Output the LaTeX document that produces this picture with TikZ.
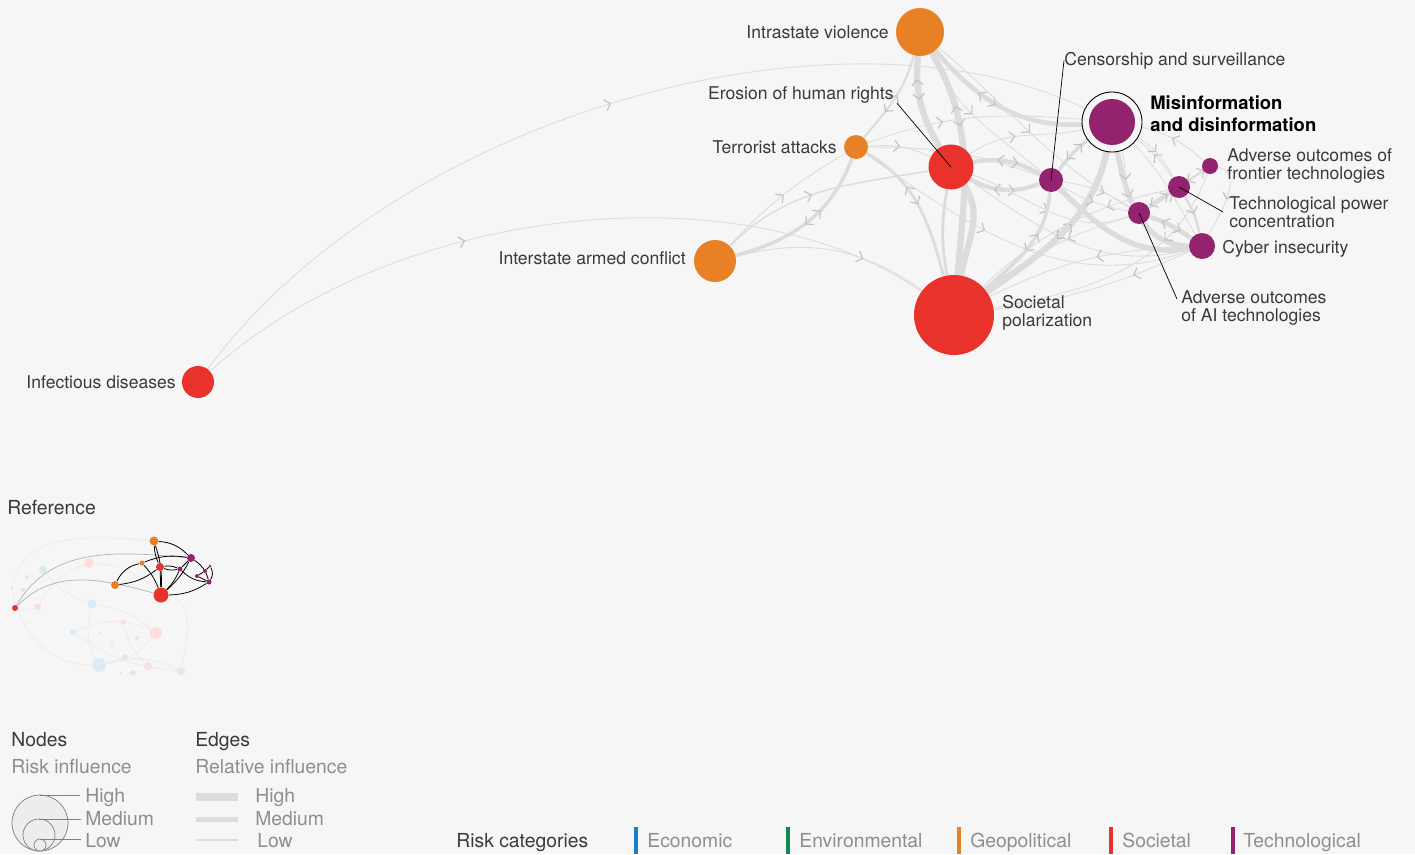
\documentclass[tikz,border=0pt]{standalone}
\usepackage{fontspec}
\setmainfont{TeX Gyre Heros}
\usetikzlibrary{arrows.meta,decorations.markings}
\definecolor{bg}{HTML}{F6F6F6}
\definecolor{edgegray}{HTML}{DCDCDC}
\definecolor{chevgray}{HTML}{C2C2C2}
\definecolor{geo}{HTML}{E88126}
\definecolor{soc}{HTML}{E8322B}
\definecolor{tech}{HTML}{93226F}
\definecolor{econ}{HTML}{1B7EC2}
\definecolor{env}{HTML}{0E8A4C}
\definecolor{textdark}{HTML}{3A3A3A}
\definecolor{textgray}{HTML}{8E8E8E}
\pgfdeclarelayer{back}
\pgfdeclarelayer{links}
\pgfsetlayers{back,links,main}
\tikzset{
  risk/.style={circle,inner sep=0pt,minimum size=#1},
  lbl/.style={inner sep=0pt,text=textdark,font=\fontsize{10}{10.5}\selectfont,align=left},
  lgd/.style={inner sep=0pt,text=textdark,font=\fontsize{11}{12}\selectfont},
  lgdgray/.style={lgd,text=textgray},
  link/.style={draw=edgegray,line width=#1},
  link/.default=0.5pt,
  chev/.tip={Straight Barb[length=1.1mm,width=2.3mm,line width=0.65pt]},
  fwd/.style={postaction={decorate,decoration={markings,
    mark=at position #1 with {\arrow[chevgray]{chev}}}}},
  fwd/.default=0.5,
  both/.style={postaction={decorate,decoration={markings,
    mark=at position #1 with {{\pgftransformxshift{2.1mm}\arrow[chevgray]{chev}}%
      {\pgftransformxshift{-2.1mm}\arrowreversed[chevgray]{chev}}}}}},
  both/.default=0.5,
  leader/.style={draw=black,line width=0.4pt},
  refl/.style={draw=black,line width=0.45pt},
  faint/.style={draw=black!9,line width=0.3pt},
  lgcirc/.style={draw=black!50,fill=black!7,line width=0.4pt},
}
\begin{document}
\begin{tikzpicture}[x=0.2mm,y=0.2mm]
\begin{pgfonlayer}{back}
\fill[bg] (0,0) rectangle (1415,-854);
\end{pgfonlayer}
\useasboundingbox (0,0) rectangle (1415,-854);

% risks
\node[risk=9.6mm,fill=geo] (iv) at (920,-32) {};
\node[risk=9mm,fill=soc] (ehr) at (951,-167) {};
\node[risk=4.8mm,fill=geo] (ta) at (856,-147) {};
\node[risk=8.4mm,fill=geo] (iac) at (715,-261) {};
\node[risk=16mm,fill=soc] (sp) at (954,-315) {};
\node[risk=4.8mm,fill=tech] (cs) at (1051,-180) {};
\node[risk=12mm,draw=black,line width=0.5pt,fill=bg] (misring) at (1112,-122) {};
\node[risk=9.2mm,fill=tech] (mis) at (1112,-122) {};
\node[risk=3.2mm,fill=tech] (fr) at (1210,-166) {};
\node[risk=4.4mm,fill=tech] (tpc) at (1179,-187) {};
\node[risk=4.4mm,fill=tech] (ai) at (1139,-213) {};
\node[risk=5.2mm,fill=tech] (ci) at (1202,-246) {};
\node[risk=6.4mm,fill=soc] (id) at (198,-382) {};

\node[lbl,anchor=base east] (ivl) at (889,-38) {Intrastate violence};
\node[lbl,anchor=base east] (ehrl) at (894,-99) {Erosion of human rights};
\node[lbl,anchor=base east] (tal) at (837,-153) {Terrorist attacks};
\node[lbl,anchor=base east] (iacl) at (686,-264) {Interstate armed conflict};
\node[lbl,anchor=base east] (idl) at (176,-388) {Infectious diseases};
\node[lbl,anchor=base west] (csl) at (1064,-65) {Censorship and surveillance};
\node[lbl,anchor=west,text=black,font=\bfseries\fontsize{10.5}{12.5}\selectfont] (misl) at (1150,-114) {Misinformation\\and disinformation};
\node[lbl,anchor=west] (frl) at (1227,-166) {Adverse outcomes of\\frontier technologies};
\node[lbl,anchor=west] (tpcl) at (1229,-212) {Technological power\\concentration};
\node[lbl,anchor=base west] (cil) at (1222,-253) {Cyber insecurity};
\node[lbl,anchor=west] (ail) at (1181,-308) {Adverse outcomes\\of AI technologies};
\node[lbl,anchor=west] (spl) at (1002,-313) {Societal\\polarization};

\draw[leader] ([xshift=0.6mm]ehrl.south east) -- (ehr.center);
\draw[leader] (csl.west) -- (cs.center);
\draw[leader] ([xshift=-1.2mm]tpcl.west) -- (tpc.center);
\draw[leader] ([xshift=-0.8mm,yshift=-1.8mm]ail.north west) -- (ai.center);

\begin{pgfonlayer}{links}
\draw[link,fwd=0.5] (id) .. controls (400,-110) and (850,10) .. (mis);
\draw[link,fwd=0.38] (id) .. controls (400,-200) and (750,-170) .. (sp);
\draw[link,fwd=0.66] (iac) to[bend left=25] (sp);
\draw[link=0.8pt,fwd=0.45] (iac) to[out=45,in=190] (ehr);
\draw[link,fwd] (iac) to[bend left=8] (ta);
\draw[link=2pt,both=0.45] (ta) to[out=-110,in=15] (iac);
\draw[link=1.6pt,both=0.42] (ta) to[out=-30,in=105] (sp);
\draw[link=1.2pt,both=0.45] (ta) to[out=50,in=-105] (iv);
\draw[link,fwd] (ta) to[bend left=15] (ehr);
\draw[link,fwd=0.35] (ta) to[out=20,in=175] (mis);
\draw[link,fwd] (ta) to[out=0,in=160] (cs);
\draw[link,fwd=0.4] (ta) to[out=-35,in=200] (ci);
\draw[link=3.6pt,both=0.35] (iv) to[out=-95,in=120] (ehr);
\draw[link=3.6pt,both=0.3] (iv) to[out=-60,in=85] (sp);
\draw[link=2.6pt,both=0.4] (iv) to[out=-50,in=185] (mis);
\draw[link,fwd=0.45] (iv) to[out=-65,in=140] (cs);
\draw[link,fwd] (iv) to[out=-40,in=150] (ai);
\draw[link=3.6pt] (ehr) to[out=-55,in=80] (sp);
\draw[link=1.6pt] (ehr) to[out=-100,in=100] (sp);
\draw[link=2.4pt,both] (ehr) to[bend left=20] (cs);
\draw[link=2.4pt,both] (ehr) to[bend right=25] (cs);
\draw[link,fwd=0.4] (ehr) to[out=35,in=195] (mis);
\draw[link,fwd=0.45] (ehr) to[out=-35,in=195] (ci);
\draw[link,fwd] (ehr) to[out=-20,in=200] (ai);
\draw[link=2pt,both] (cs) to[bend left=8] (mis);
\draw[link=2pt,both=0.45] (cs) to[out=-95,in=40] (sp);
\draw[link=3.6pt,both] (mis) to[out=-100,in=35] (sp);
\draw[link=3pt,fwd=0.4] (mis) to[out=-80,in=180] (ci);
\draw[link=3pt] (cs) to[out=-45,in=190] (ci);
\draw[link,fwd=0.6] (mis) to[out=-70,in=120] (ai);
\draw[link,fwd] (fr) to[bend right=15] (mis);
\draw[link,fwd] (tpc) to[bend right=10] (mis);
\draw[link,fwd=0.4] (ci) to[out=120,in=-45] (mis);
\draw[link,fwd=0.5] (mis) to[bend left=15] (tpc);
\draw[link=2.6pt,both] (ai) -- (tpc);
\draw[link=2.6pt,both] (ai) to[bend left=8] (ci);
\draw[link=1.4pt,both] (tpc) -- (fr);
\draw[link,fwd] (fr) to[out=-10,in=60] (ci);
\draw[link=1.4pt,fwd] (tpc) to[bend left=10] (ci);
\draw[link,fwd=0.45] (ci) to[bend right=12] (sp);
\draw[link,fwd=0.3] (ci) to[bend left=8] (sp);
\draw[link,fwd=0.4] (ai) to[bend right=10] (sp);
\draw[link,fwd=0.3] (tpc) to[bend right=15] (sp);
\draw[link,fwd=0.3] (fr) to[out=-110,in=10] (sp);
\draw[link,fwd] (cs) to[bend right=10] (ai);
\draw[link,fwd=0.6] (cs) to[bend left=12] (ai);
\end{pgfonlayer}

% reference inset
\node[lgd,anchor=base west] (refl) at (7,-514) {Reference};
\foreach \x/\y/\r/\c [count=\i] in {89/563/5/soc,43/570/4/env,27/577/2/env,12/588/1.5/env,
  23/590/2/env,38/589/1.5/env,38/607/3.5/soc,92/604/4.5/econ,65/596/1/env,29/623/1.5/geo,
  123/622/3/soc,73/632/3.5/econ,100/633/1.5/econ,156/633/6/soc,137/638/2/econ,112/645/2.5/geo,
  125/657/3/econ,99/665/7/econ,148/666/4/soc,133/673/3/econ,121/673/1.5/econ,181/671/4/econ}
  \node[risk=\r*0.4mm,fill=\c!16] (f\i) at (\x,-\y) {};
\node[risk=1.8mm,fill=geo] (riv) at (154,-541) {};
\node[risk=1.6mm,fill=tech] (rmis) at (191,-558) {};
\node[risk=1mm,fill=geo] (rta) at (142,-563) {};
\node[risk=1.6mm,fill=soc] (rehr) at (160,-567) {};
\node[risk=1mm,fill=tech] (rcs) at (180,-569) {};
\node[risk=0.6mm,fill=tech] (rfr) at (210,-566) {};
\node[risk=0.8mm,fill=tech] (rtpc) at (205,-571) {};
\node[risk=0.8mm,fill=tech] (rai) at (197,-576) {};
\node[risk=1mm,fill=tech] (rci) at (209,-582) {};
\node[risk=1.6mm,fill=geo] (riac) at (115,-585) {};
\node[risk=3mm,fill=soc] (rsp) at (161,-595) {};
\node[risk=1.2mm,fill=soc] (rid) at (15,-608) {};

\begin{pgfonlayer}{links}
\draw[faint] (f4) to[out=80,in=175] (riv);
\draw[faint] (f18) to[bend left=20] (f22);
\draw[faint] (f18) to[bend right=20] (f14);
\draw[faint] (f12) to[bend right=15] (f22);
\draw[faint] (f8) to[bend left=15] (f14);
\draw[faint] (f4) to[out=-80,in=180] (f18);
\draw[faint] (rsp) to[out=-10,in=80] (f22);
\draw[faint] (f1) to[bend left=20] (rsp);
\draw[faint] (f8) to[bend right=20] (f18);
\draw[faint] (f2) to[bend right=15] (f8);
\draw[faint] (f11) to[bend right=15] (f19);
\draw[faint] (rid) to[bend right=15] (f7);
\draw[faint] (f7) to[bend left=20] (f1);
\draw[faint] (f12) to[bend left=25] (f14);
\draw[black!30,line width=0.4pt] (rid) to[out=60,in=175] (rmis);
\draw[black!30,line width=0.4pt] (rid) to[out=45,in=165] (rsp);
\draw[refl] (riv) to[bend left=10] (rsp);
\draw[refl] (riv) to[bend right=10] (rehr);
\draw[refl] (riv) to[bend left=20] (rmis);
\draw[refl] (riac) to[bend left=25] (rta);
\draw[refl] (riac) to[bend right=15] (rehr);
\draw[refl] (rta) to[bend left=10] (rsp);
\draw[refl] (rta) to[bend left=15] (rmis);
\draw[refl] (rehr) to[bend left=15] (rcs);
\draw[refl] (rehr) to[bend right=15] (rcs);
\draw[refl] (rehr) -- (rsp);
\draw[refl] (rcs) -- (rmis);
\draw[refl] (rmis) to[bend left=10] (rsp);
\draw[refl] (rcs) to[bend left=10] (rsp);
\draw[refl] (rmis) to[bend left=20] (rci);
\draw[refl] (rcs) to[bend right=20] (rci);
\draw[refl] (rai) -- (rtpc);
\draw[refl] (rai) -- (rci);
\draw[refl] (rtpc) -- (rfr);
\draw[refl] (rfr) to[bend left=30] (rci);
\draw[refl] (rsp) to[bend right=15] (rci);
\end{pgfonlayer}

% legend
\node[lgd,anchor=base west] (nodest) at (11,-746) {Nodes};
\node[lgdgray,anchor=base west] (nodess) at (11,-773) {Risk influence};
\draw[lgcirc] (40,-823) circle[radius=28];
\draw[lgcirc] (39,-835) circle[radius=16];
\draw[lgcirc] (40,-845) circle[radius=6];
\draw[black!50,line width=0.4pt] (40,-795) -- (80,-795);
\draw[black!50,line width=0.4pt] (39,-819) -- (81,-819);
\draw[black!50,line width=0.4pt] (40,-839) -- (81,-839);
\node[lgdgray,anchor=base west] (nhigh) at (85,-802) {High};
\node[lgdgray,anchor=base west] (nmed) at (85,-825) {Medium};
\node[lgdgray,anchor=base west] (nlow) at (85,-847) {Low};

\node[lgd,anchor=base west] (edgest) at (195,-746) {Edges};
\node[lgdgray,anchor=base west] (edgess) at (195,-773) {Relative influence};
\draw[edgegray,line width=1.6mm] (196,-797) -- (238,-797);
\draw[edgegray,line width=1mm] (196,-819) -- (238,-819);
\draw[edgegray,line width=0.4mm] (196,-840) -- (238,-840);
\node[lgdgray,anchor=base west] (ehigh) at (255,-802) {High};
\node[lgdgray,anchor=base west] (emed) at (255,-825) {Medium};
\node[lgdgray,anchor=base west] (elow) at (257,-847) {Low};

\node[lgd,anchor=base west] (catt) at (456,-847) {Risk categories};
\fill[econ] (634,-827) rectangle (638,-854);
\node[lgdgray,anchor=base west] (cecon) at (647,-847) {Economic};
\fill[env] (786,-827) rectangle (790,-854);
\node[lgdgray,anchor=base west] (cenv) at (799,-847) {Environmental};
\fill[geo] (957,-827) rectangle (961,-854);
\node[lgdgray,anchor=base west] (cgeo) at (970,-847) {Geopolitical};
\fill[soc] (1109,-827) rectangle (1113,-854);
\node[lgdgray,anchor=base west] (csoc) at (1122,-847) {Societal};
\fill[tech] (1231,-827) rectangle (1235,-854);
\node[lgdgray,anchor=base west] (ctech) at (1243,-847) {Technological};
\end{tikzpicture}
\end{document}
